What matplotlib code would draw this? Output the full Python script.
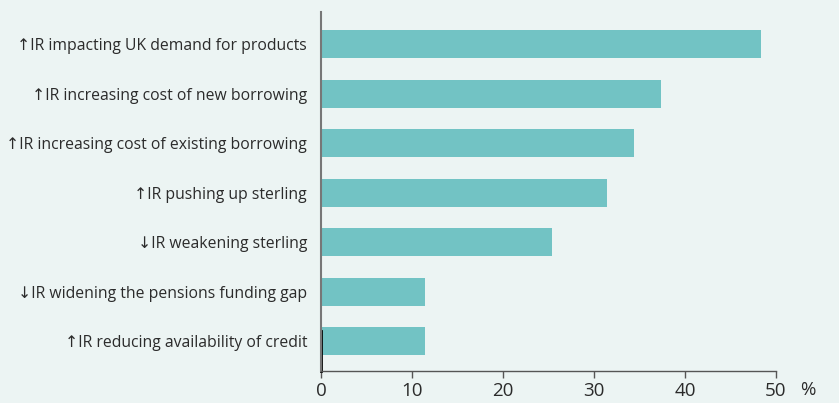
import matplotlib
matplotlib.use("Agg")
import matplotlib.pyplot as plt

labels = [
    "\u2191IR impacting UK demand for products",
    "\u2191IR increasing cost of new borrowing",
    "\u2191IR increasing cost of existing borrowing",
    "\u2191IR pushing up sterling",
    "\u2193IR weakening sterling",
    "\u2193IR widening the pensions funding gap",
    "\u2191IR reducing availability of credit",
]
values = [48.4, 37.4, 34.4, 31.4, 25.4, 11.4, 11.4]
xticks = [0, 10, 20, 30, 40, 50]

plt.rcParams['font.family'] = ['Open Sans', 'DejaVu Sans']

bg = "#ecf4f3"
fig = plt.figure(figsize=(8.39, 4.03), dpi=100, facecolor=bg)
ax = fig.add_axes([0.3826, 0.0794, 0.5423, 0.8906], facecolor=bg)

ypos = list(range(len(labels)))
ax.barh(ypos, values, height=0.57, color="#72c3c4")
ax.set_ylim(len(labels) - 0.4, -0.65)
ax.set_xlim(0, 50)

ax.set_yticks(ypos)
ax.set_yticklabels(labels, fontsize=11.3, color="#2b2b2b")
ax.tick_params(axis="y", length=0, pad=10)
ax.set_xticks(xticks)
ax.set_xticklabels([str(t) for t in xticks], fontsize=13.5, color="#2b2b2b")
ax.tick_params(axis="x", length=5, width=1, color="#555555", pad=3)

for s in ["top", "right"]:
    ax.spines[s].set_visible(False)
ax.spines["left"].set_color("#777777")
ax.spines["left"].set_linewidth(1.5)
ax.spines["bottom"].set_color("#555555")
ax.spines["bottom"].set_linewidth(1)

# dark segment at the base of the value axis
ax.plot([0, 0], [len(labels) - 1.2, len(labels) - 0.4], color="black", lw=2, clip_on=False)

ax.text(1.070, -0.053, "%", transform=ax.transAxes, fontsize=13.5, color="#2b2b2b",
        ha="center", va="center")

fig.savefig("out.png", dpi=100, facecolor=bg)
